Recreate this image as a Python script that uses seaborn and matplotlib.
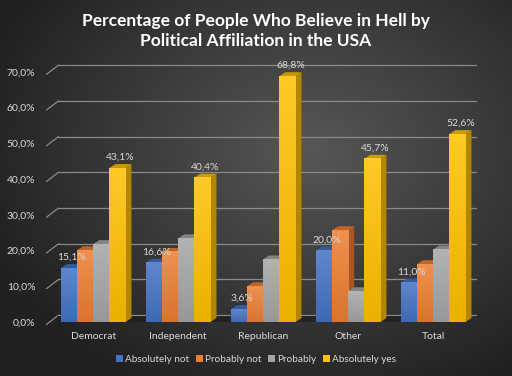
import numpy as np
import pandas as pd
import matplotlib
matplotlib.use("Agg")
import matplotlib.pyplot as plt
import seaborn as sns
from matplotlib.patches import Polygon, Patch
import matplotlib.colors as mcolors

# ---- data ----
groups = ["Democrat", "Independent", "Republican", "Other", "Total"]
series = ["Absolutely not", "Probably not", "Probably", "Absolutely yes"]
absolutely_not = [15.1, 16.6, 3.6, 20.0, 11.0]
probably_not = [20.1, 19.6, 10.0, 25.7, 16.2]
probably = [21.8, 23.4, 17.5, 8.6, 20.3]
absolutely_yes = [43.1, 40.4, 68.8, 45.7, 52.6]
yticks = [0, 10, 20, 30, 40, 50, 60, 70]
labelled_series = ["Absolutely not", "Absolutely yes"]

colors = ["#4472C4", "#ED7D31", "#A5A5A5", "#FFC000"]
txt = "#d9d9d9"

rows = []
for s, vals in zip(series, [absolutely_not, probably_not, probably, absolutely_yes]):
    for g, v in zip(groups, vals):
        rows.append({"group": g, "series": s, "value": v})
df = pd.DataFrame(rows)

sns.set_theme(style="white")
plt.rcParams["font.family"] = ["Lato", "DejaVu Sans"]

fig = plt.figure(figsize=(5.12, 3.76), dpi=100)

# background radial gradient
bg = fig.add_axes([0, 0, 1, 1], zorder=-10)
yy, xx = np.mgrid[0:376, 0:512]
r = np.sqrt(((xx - 310) / 340.0) ** 2 + ((yy - 150) / 260.0) ** 2)
r = np.clip(r, 0, 1)
c0 = np.array([0.34, 0.34, 0.34])
c1 = np.array([0.13, 0.13, 0.13])
img = c0[None, None, :] * (1 - r[..., None]) + c1[None, None, :] * r[..., None]
bg.imshow(img, aspect="auto", extent=[0, 1, 0, 1], origin="upper")
bg.set_axis_off()

ax = fig.add_axes([0.099, 0.1436, 0.83, 0.684])
ax.patch.set_alpha(0)
sns.barplot(data=df, x="group", y="value", hue="series", palette=colors,
            order=groups, hue_order=series, width=0.76, saturation=1,
            ax=ax, legend=False, zorder=3, linewidth=0)
ax.set_ylim(0, 72)
ax.set_xlim(-0.5, 4.5)

fig.canvas.draw()
# pixel -> data conversions for depth
x0d, y0d = ax.transData.inverted().transform((0, 0))
x1d, y1d = ax.transData.inverted().transform((6.0, 4.0))
ddx = x1d - x0d
ddy = y1d - y0d

# back-wall gridlines (offset by depth) with slanted left piece
for t in yticks:
    ax.plot([-0.5 + ddx * 1.3, 4.5], [t + ddy * 1.7, t + ddy * 1.7], color="#8a8a8a",
            lw=0.9, zorder=1, clip_on=False)
    ax.plot([-0.55, -0.5 + ddx * 1.3], [t - ddy * 0.6, t + ddy * 1.7], color="#8a8a8a",
            lw=0.9, zorder=1, clip_on=False)
# floor shadow
ax.fill_between([-0.42, 4.42], [0, 0], [ddy * 1.4, ddy * 1.4], color="#1a1a1a",
                alpha=0.6, zorder=2, lw=0)

# 3D faces and gradients on bars
bars = [p for p in ax.patches if p.get_height() > 0]
for p in bars:
    x = p.get_x()
    w = p.get_width()
    h = p.get_height()
    base = np.array(mcolors.to_rgb(p.get_facecolor()))
    dark = base * 0.7
    light = np.clip(base * 0.85 + 0.15, 0, 1)
    side = Polygon([[x + w, 0], [x + w + ddx, ddy], [x + w + ddx, h + ddy], [x + w, h]],
                   closed=True, facecolor=dark, edgecolor="none", zorder=3)
    top = Polygon([[x, h], [x + ddx, h + ddy], [x + w + ddx, h + ddy], [x + w, h]],
                  closed=True, facecolor=np.clip(base * 0.8, 0, 1), edgecolor="none", zorder=3)
    ax.add_patch(side)
    ax.add_patch(top)
    grad = np.linspace(0, 1, 50)[:, None]
    gimg = np.zeros((50, 2, 3))
    for k in range(3):
        gimg[:, :, k] = (light[k] * (1 - grad) + base[k] * 0.92 * grad)
    ax.imshow(gimg, extent=[x, x + w, 0, h], origin="upper", aspect="auto", zorder=3.5)
    p.set_alpha(0)

# data labels for selected series
nb = len(groups)
for si, s in enumerate(series):
    if s not in labelled_series:
        continue
    vals = df[df.series == s]["value"].tolist()
    for gi in range(nb):
        p = bars[si * nb + gi]
        v = vals[gi]
        lab = f"{v:.1f}%".replace(".", ",")
        ax.text(p.get_x() + p.get_width() / 2 + ddx / 2, v + ddy + 0.6, lab,
                ha="center", va="bottom", color=txt, fontsize=7.5, zorder=6)

ax.set_yticks(yticks)
ax.set_yticklabels([f"{t:.1f}%".replace(".", ",") for t in yticks])
ax.tick_params(axis="y", colors=txt, labelsize=7.5, length=0, pad=11)
ax.tick_params(axis="x", colors=txt, labelsize=7.5, length=0, pad=7)
ax.set_xlabel("")
ax.set_ylabel("")
for sp in ax.spines.values():
    sp.set_visible(False)
ax.grid(False)

handles = [Patch(facecolor=c, edgecolor="none", label=s) for c, s in zip(colors, series)]
leg = fig.legend(handles=handles, loc="center", bbox_to_anchor=(0.5, 0.045), ncol=4,
                 frameon=False, fontsize=7.2, handlelength=0.7, handleheight=0.7,
                 handletextpad=0.2, columnspacing=0.7)
for t in leg.get_texts():
    t.set_color(txt)

fig.text(0.5, 0.918, "Percentage of People Who Believe in Hell by\nPolitical Affiliation in the USA",
         ha="center", va="center", color="white", fontsize=12.5, fontweight="bold",
         linespacing=1.3)

fig.savefig("out.png", dpi=100)
